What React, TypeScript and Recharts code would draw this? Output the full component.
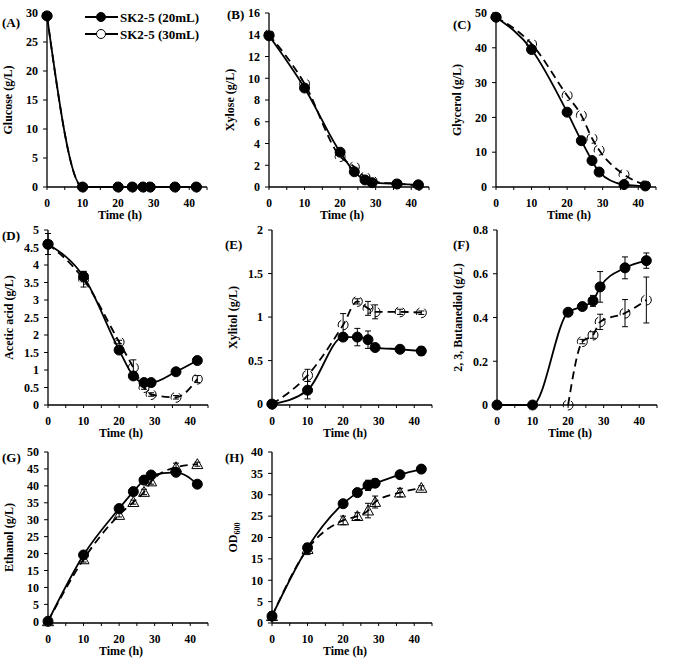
import React from "react";
import { ErrorBar, Legend, Line, LineChart, XAxis, YAxis } from "recharts";

const FONT = "'Liberation Serif', 'Times New Roman', serif";

const time = [0, 10, 20, 24, 27, 29, 36, 42];
const seriesNames = ["SK2-5 (20mL)", "SK2-5 (30mL)"];
const xTicks = [0, 5, 10, 15, 20, 25, 30, 35, 40, 45];

// (A) glucose
const glucose20 = [29.5, 0, 0, 0, 0, 0, 0, 0];
const glucose30 = [29.5, 0, 0, 0, 0, 0, 0, 0];
// (B) xylose
const xylose20 = [13.9, 9.1, 3.2, 1.4, 0.65, 0.4, 0.28, 0.2];
const xylose30 = [14.0, 9.5, 2.8, 1.85, 0.9, 0.55, 0.3, 0.15];
// (C) glycerol
const glycerol20 = [48.8, 39.5, 21.5, 13.3, 7.6, 4.3, 0.7, 0.3];
const glycerol30 = [48.8, 41.1, 26.3, 20.6, 14.0, 10.6, 3.6, 0.5];
// (D) acetic acid
const acetic20 = [4.59, 3.67, 1.57, 0.83, 0.64, 0.64, 0.95, 1.27];
const acetic30 = [4.6, 3.59, 1.8, 1.07, 0.5, 0.3, 0.22, 0.74];
const aceticErr20 = [0.05, 0.15, 0.05, 0.05, 0.05, 0.05, 0.05, 0.05];
const aceticErr30 = [0.3, 0.22, 0.05, 0.22, 0.05, 0.05, 0.05, 0.1];
// (E) xylitol
const xylitol20 = [0, 0.16, 0.77, 0.77, 0.74, 0.65, 0.63, 0.61];
const xylitol30 = [0, 0.33, 0.91, 1.18, 1.1, 1.06, 1.06, 1.05];
const xylitolErr20 = [0.01, 0.1, 0.03, 0.1, 0.1, 0.04, 0.03, 0.05];
const xylitolErr30 = [0.01, 0.07, 0.13, 0.03, 0.08, 0.08, 0.03, 0.02];
// (F) 2,3-butanediol
const bdo20 = [0, 0, 0.424, 0.45, 0.476, 0.54, 0.627, 0.66];
const bdo30 = [null, null, 0, 0.29, 0.32, 0.38, 0.42, 0.48];
const bdoErr20 = [0, 0, 0.01, 0.01, 0.025, 0.07, 0.05, 0.035];
const bdoErr30 = [null, null, 0, 0.01, 0.015, 0.035, 0.062, 0.105];
// (G) ethanol
const ethanol20 = [0, 19.6, 33.3, 38.3, 41.7, 43.2, 44.0, 40.5];
const ethanol30 = [0, 18.3, 31.4, 35.2, 38.2, 41.3, 45.5, 46.4];
const ethanolErr20 = [0.5, 0.5, 0.6, 0.5, 0.6, 0.6, 1.0, 0.8];
const ethanolErr30 = [0.3, 0.8, 0.6, 0.6, 0.8, 0.8, 1.2, 0.6];
// (H) OD600
const od20 = [1.6, 17.6, 27.9, 30.5, 32.2, 32.7, 34.7, 36.0];
const od30 = [1.6, 17.3, 24.0, 25.0, 26.3, 28.3, 30.5, 31.6];
const odErr20 = [1.0, 1.0, 0.5, 0.5, 1.2, 1.0, 0.5, 0.5];
const odErr30 = [0.5, 1.3, 1.0, 0.8, 1.7, 1.4, 1.0, 0.5];

const textStyle = { fontFamily: FONT, fontWeight: "bold" as const, fill: "#000" };

const triangleDot = (props: any) => {
  const { cx, cy, index } = props;
  if (cx == null || cy == null || isNaN(cy)) return <g key={`tri-${index}`} />;
  const s = 5.5;
  return (
    <path
      key={`tri-${index}`}
      d={`M${cx},${cy - s} L${cx + s},${cy + s * 0.8} L${cx - s},${cy + s * 0.8} Z`}
      fill="none"
      stroke="#000"
      strokeWidth={1}
    />
  );
};

const LegendBox = () => (
  <svg width={130} height={36} style={{ display: "block" }}>
    {seriesNames.map((n, i) => (
      <g key={n} transform={`translate(0, ${9 + i * 17})`}>
        <line x1={0} x2={33} y1={0} y2={0} stroke="#000" strokeWidth={2} />
        <circle cx={16} cy={0} r={4.5} fill={i === 0 ? "#000" : "#fff"} stroke="#000" strokeWidth={1} />
        <text x={35} y={4.5} fontSize={13} {...textStyle}>
          {n}
        </text>
      </g>
    ))}
  </svg>
);

type PanelProps = {
  tag: string;
  yLabel: string;
  left: number;
  top: number;
  height: number;
  mTop: number;
  tagX: number;
  tagY: number;
  yTicks: number[];
  s20: (number | null)[];
  s30: (number | null)[];
  e20?: (number | null)[];
  e30?: (number | null)[];
  triangles?: boolean;
  legend?: boolean;
};

const Panel = (p: PanelProps) => {
  const data = time.map((t, i) => ({
    t,
    s20: p.s20[i],
    s30: p.s30[i],
    e20: p.e20 ? p.e20[i] : null,
    e30: p.e30 ? p.e30[i] : null,
  }));

  const yLabel = (props: any) => {
    const vb = props.viewBox;
    const cx = vb.x + 12;
    const cy = vb.y + vb.height / 2;
    return (
      <text x={cx} y={cy} transform={`rotate(-90 ${cx} ${cy})`} textAnchor="middle" fontSize={12} {...textStyle}>
        {p.yLabel === "OD600" ? (
          <>
            <tspan>OD</tspan>
            <tspan fontSize={8} dy={3}>600</tspan>
          </>
        ) : (
          p.yLabel
        )}
      </text>
    );
  };

  const xLabel = (props: any) => {
    const vb = props.viewBox;
    return (
      <text x={vb.x + vb.width / 2 - 7} y={vb.y + 32} textAnchor="middle" fontSize={12} {...textStyle}>
        Time (h)
      </text>
    );
  };

  const tick = { fontSize: 12, ...textStyle };
  const axisLine = { stroke: "#000", strokeWidth: 1.3 };

  return (
    <div style={{ position: "absolute", left: p.left, top: p.top }}>
      <LineChart width={225} height={p.height + 6} data={data} margin={{ top: p.mTop, right: 18, bottom: 6, left: 0 }}>
        <XAxis
          type="number"
          dataKey="t"
          domain={[0, 45]}
          ticks={xTicks}
          interval={0}
          tickFormatter={(v: number) => (v % 10 === 0 ? String(v) : "")}
          height={30}
          tickSize={3}
          tick={{ ...tick, fontSize: 11.5, dy: 7 }}
          axisLine={axisLine}
          tickLine={{ stroke: "#000" }}
          label={xLabel}
        />
        <YAxis
          type="number"
          domain={[p.yTicks[0], p.yTicks[p.yTicks.length - 1]]}
          ticks={p.yTicks}
          interval={0}
          width={47}
          tickSize={4}
          tickMargin={5}
          tick={tick}
          axisLine={axisLine}
          tickLine={{ stroke: "#000" }}
          label={yLabel}
        />
        {p.legend && (
          <Legend
            layout="vertical"
            align="center"
            verticalAlign="middle"
            wrapperStyle={{ left: 85, top: 8, width: 130, height: 36 }}
            content={() => <LegendBox />}
          />
        )}
        <Line
          dataKey="s30"
          type="monotone"
          stroke="#000"
          strokeWidth={1.8}
          strokeDasharray="8 5"
          isAnimationActive={false}
          legendType="none"
          dot={p.triangles ? triangleDot : { r: 5, fill: "none", stroke: "#000", strokeWidth: 1 }}
        >
          {p.e30 && <ErrorBar dataKey="e30" direction="y" width={3} stroke="#000" strokeWidth={1} />}
        </Line>
        <Line
          dataKey="s20"
          type="monotone"
          stroke="#000"
          strokeWidth={1.8}
          isAnimationActive={false}
          legendType="none"
          dot={{ r: 5, fill: "#000", stroke: "#000", strokeWidth: 1 }}
        >
          {p.e20 && <ErrorBar dataKey="e20" direction="y" width={3} stroke="#000" strokeWidth={1} />}
        </Line>
      </LineChart>
      <div
        style={{
          position: "absolute",
          left: p.tagX,
          top: p.tagY,
          fontFamily: FONT,
          fontWeight: "bold",
          fontSize: 13,
          lineHeight: "13px",
        }}
      >
        {p.tag}
      </div>
    </div>
  );
};

export default function App() {
  return (
    <div style={{ position: "absolute", left: 0, top: 0, width: 674, height: 662, background: "#fff" }}>
      <Panel tag="(A)" yLabel="Glucose (g/L)" left={0} top={0} height={217} mTop={13} tagX={2} tagY={16}
        yTicks={[0, 5, 10, 15, 20, 25, 30]} s20={glucose20} s30={glucose30} legend />
      <Panel tag="(B)" yLabel="Xylose (g/L)" left={222} top={0} height={217} mTop={13} tagX={5} tagY={8}
        yTicks={[0, 2, 4, 6, 8, 10, 12, 14, 16]} s20={xylose20} s30={xylose30} />
      <Panel tag="(C)" yLabel="Glycerol (g/L)" left={449} top={0} height={217} mTop={13} tagX={4} tagY={18}
        yTicks={[0, 10, 20, 30, 40, 50]} s20={glycerol20} s30={glycerol30} />
      <Panel tag="(D)" yLabel="Acetic acid (g/L)" left={1} top={217} height={218} mTop={13} tagX={1} tagY={12}
        yTicks={[0, 0.5, 1, 1.5, 2, 2.5, 3, 3.5, 4, 4.5, 5]} s20={acetic20} s30={acetic30} e20={aceticErr20} e30={aceticErr30} />
      <Panel tag="(E)" yLabel="Xylitol (g/L)" left={225} top={217} height={218} mTop={13} tagX={0} tagY={21}
        yTicks={[0, 0.5, 1, 1.5, 2]} s20={xylitol20} s30={xylitol30} e20={xylitolErr20} e30={xylitolErr30} />
      <Panel tag="(F)" yLabel="2, 3, Butanediol (g/L)" left={450} top={217} height={218} mTop={13} tagX={3} tagY={21}
        yTicks={[0, 0.2, 0.4, 0.6, 0.8]} s20={bdo20} s30={bdo30} e20={bdoErr20} e30={bdoErr30} />
      <Panel tag="(G)" yLabel="Ethanol (g/L)" left={1} top={440} height={213} mTop={12} tagX={1} tagY={11}
        yTicks={[0, 5, 10, 15, 20, 25, 30, 35, 40, 45, 50]} s20={ethanol20} s30={ethanol30} e20={ethanolErr20} e30={ethanolErr30} triangles />
      <Panel tag="(H)" yLabel="OD600" left={225} top={440} height={213} mTop={12} tagX={0} tagY={11}
        yTicks={[0, 5, 10, 15, 20, 25, 30, 35, 40]} s20={od20} s30={od30} e20={odErr20} e30={odErr30} triangles />
    </div>
  );
}
